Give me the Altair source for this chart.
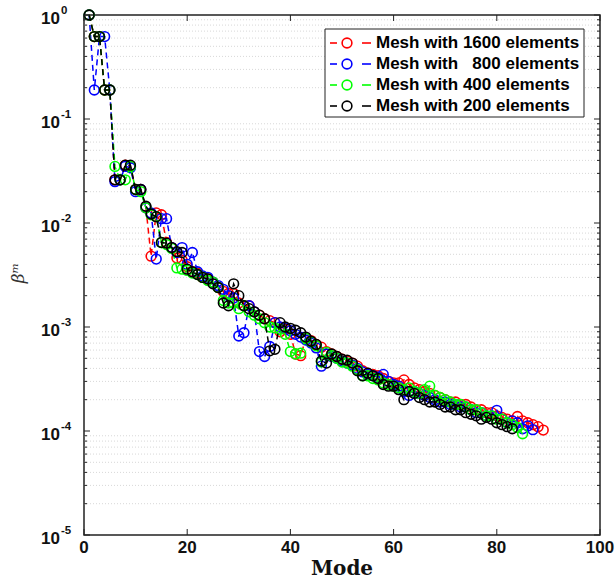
import altair as alt
import pandas as pd

# Eigenvalue decay beta^m against mode number for four mesh refinements
beta_1600 = [
    1.0, 0.62, 0.62, 0.19, 0.19, 0.026, 0.026, 0.036, 0.035, 0.021,
    0.021, 0.014, 0.0048, 0.0125, 0.012, 0.0065, 0.0058, 0.0046, 0.0044, 0.0038,
    0.0034, 0.0033, 0.0030, 0.0029, 0.0027, 0.0024, 0.0022, 0.0021, 0.0021, 0.0017,
    0.0016, 0.0016, 0.0014, 0.0013, 0.0012, 0.00115, 0.0011, 0.0009, 0.00095, 0.00085,
    0.00055, 0.00053, 0.00078, 0.00074, 0.00068, 0.00064, 0.00058, 0.00055, 0.00052, 0.00049,
    0.00047, 0.00045, 0.00042, 0.00038, 0.00036, 0.00035, 0.00034, 0.00032, 0.00030, 0.00029,
    0.00029, 0.00031, 0.00028, 0.00026, 0.00025, 0.00024, 0.00023, 0.00022, 0.00021, 0.00020,
    0.00019, 0.00019, 0.00018, 0.00018, 0.00017, 0.00016, 0.00016, 0.00015, 0.00015, 0.00014,
    0.000135, 0.00013, 0.000125, 0.000138, 0.000125, 0.00012, 0.000115, 0.00011, 0.000102,
]
beta_800 = [
    1.0, 0.19, 0.62, 0.62, 0.19, 0.025, 0.026, 0.035, 0.034, 0.020,
    0.021, 0.014, 0.0125, 0.0045, 0.011, 0.011, 0.0058, 0.0052, 0.0058, 0.0040,
    0.0052, 0.0034, 0.0031, 0.0030, 0.0027, 0.0025, 0.0023, 0.0020, 0.0019, 0.00082,
    0.00088, 0.0016, 0.0014, 0.00058, 0.00052, 0.00065, 0.0011, 0.0010, 0.00098, 0.00092,
    0.00085, 0.00080, 0.00075, 0.00070, 0.00063, 0.00042, 0.00055, 0.00052, 0.00050, 0.00047,
    0.00045, 0.00043, 0.00040, 0.00037, 0.00035, 0.00034, 0.00033, 0.00035, 0.00030, 0.00028,
    0.00027, 0.00024, 0.00022, 0.00024, 0.00023, 0.00022, 0.00021, 0.00020, 0.00019, 0.00019,
    0.00018, 0.00018, 0.00017, 0.00017, 0.00016, 0.00015, 0.00015, 0.00014, 0.00014, 0.000158,
    0.00013, 0.00012, 0.000125, 0.00012, 0.000105, 0.000112, 0.000103,
]
beta_400 = [
    1.0, 0.62, 0.62, 0.19, 0.19, 0.035, 0.026, 0.026, 0.035, 0.021,
    0.020, 0.014, 0.012, 0.0115, 0.0065, 0.0062, 0.0057, 0.0037, 0.0036, 0.0035,
    0.0033, 0.0032, 0.0030, 0.0028, 0.0027, 0.0024, 0.0018, 0.0017, 0.0017, 0.0015,
    0.0016, 0.0014, 0.0013, 0.0012, 0.0011, 0.0010, 0.00098, 0.00095, 0.00085, 0.00058,
    0.00055, 0.00056, 0.00078, 0.00072, 0.00066, 0.00046, 0.00057, 0.00053, 0.00050, 0.00046,
    0.00045, 0.00042, 0.00039, 0.00034, 0.00034, 0.00032, 0.00031, 0.00029, 0.00028, 0.00027,
    0.00026, 0.00025, 0.00026, 0.00024, 0.00023, 0.00025, 0.00027, 0.00022, 0.00021, 0.00020,
    0.00019, 0.00018, 0.00018, 0.00017, 0.00016, 0.00016, 0.00015, 0.00014, 0.00014, 0.00013,
    0.00013, 0.00012, 0.000115, 0.000108, 0.000094,
]
beta_200 = [
    1.0, 0.62, 0.62, 0.19, 0.19, 0.026, 0.026, 0.036, 0.036, 0.021,
    0.021, 0.0145, 0.0122, 0.0115, 0.0065, 0.0064, 0.0058, 0.0053, 0.0052, 0.0036,
    0.0034, 0.0032, 0.0030, 0.0029, 0.0026, 0.0024, 0.0017, 0.0016, 0.0026, 0.0020,
    0.0016, 0.0015, 0.0014, 0.0013, 0.0012, 0.00059, 0.00061, 0.0011, 0.0010, 0.00097,
    0.00093, 0.00088, 0.00080, 0.00073, 0.00068, 0.00047, 0.00045, 0.00055, 0.00052, 0.00049,
    0.00048, 0.00045, 0.00038, 0.00034, 0.00036, 0.00034, 0.00032, 0.00028, 0.00027, 0.00027,
    0.00025, 0.00020, 0.00024, 0.00023, 0.00021, 0.00020, 0.00019, 0.00019, 0.00018, 0.00017,
    0.00017, 0.00016, 0.00016, 0.00015, 0.000145, 0.00014, 0.00013, 0.000135, 0.00013, 0.00012,
    0.000115, 0.00011, 0.000105,
]

series_labels = [
    "Mesh with 1600 elements",
    "Mesh with \u2007800 elements",
    "Mesh with 400 elements",
    "Mesh with 200 elements",
]
series_colors = ["#ff0000", "#0000ff", "#00ff00", "#000000"]
series_values = [beta_1600, beta_800, beta_400, beta_200]

x_ticks = [0, 20, 40, 60, 80, 100]
y_major = [1e-5, 1e-4, 1e-3, 1e-2, 1e-1, 1.0]
y_exponents = ["-5", "-4", "-3", "-2", "-1", "0"]
y_minor = [m * d for d in [1e-5, 1e-4, 1e-3, 1e-2, 1e-1] for m in range(2, 10)]

rows = []
for label, vals in zip(series_labels, series_values):
    for i, v in enumerate(vals):
        rows.append({"series": label, "mode": i + 1, "beta": v})
df = pd.DataFrame(rows)

W, H = 516, 520
FONT = "Liberation Sans"
INK = "#111"

x_scale = alt.Scale(domain=[0, 100], nice=False, zero=False)
y_scale = alt.Scale(type="log", domain=[1e-5, 1], nice=False)
color_scale = alt.Scale(domain=series_labels, range=series_colors)
color = alt.Color("series:N", scale=color_scale, legend=None)

base = alt.Chart(df)

# frame layer carrying the grid lines
frame = base.mark_point(opacity=0).encode(
    x=alt.X("mode:Q", scale=x_scale,
            axis=alt.Axis(values=x_ticks, grid=True, gridColor="#e2e2e2", labels=False,
                          ticks=False, domain=False, title=None)),
    y=alt.Y("beta:Q", scale=y_scale,
            axis=alt.Axis(values=y_major, grid=True, gridColor="#d8d8d8", labels=False,
                          ticks=False, domain=False, title=None)),
)

# dotted minor grid on the log axis
minor_grid = alt.Chart(pd.DataFrame({"v": y_minor})).mark_rule(
    color="#d8d8d8", strokeDash=[1, 2], strokeWidth=1
).encode(y=alt.Y("v:Q", scale=y_scale, axis=None), x=alt.value(0), x2=alt.value(W))

layers = [frame, minor_grid]
for label in series_labels:
    sub = base.transform_filter(alt.datum.series == label)
    enc = dict(
        x=alt.X("mode:Q", scale=x_scale, axis=None),
        y=alt.Y("beta:Q", scale=y_scale, axis=None),
        color=color,
    )
    layers.append(sub.mark_line(strokeDash=[6, 4], strokeWidth=1.5).encode(**enc))
    layers.append(sub.mark_point(filled=False, size=95, strokeWidth=1.6, opacity=1).encode(**enc))

# inward tick marks on all four sides
xt = alt.Chart(pd.DataFrame({"t": x_ticks}))
xt_enc = alt.X("t:Q", scale=x_scale, axis=None)
layers.append(xt.mark_rule(color="#222").encode(x=xt_enc, y=alt.value(H), y2=alt.value(H - 6)))
layers.append(xt.mark_rule(color="#222").encode(x=xt_enc, y=alt.value(0), y2=alt.value(6)))

yt = alt.Chart(pd.DataFrame({"t": y_major}))
yt_enc = alt.Y("t:Q", scale=y_scale, axis=None)
layers.append(yt.mark_rule(color="#222").encode(y=yt_enc, x=alt.value(0), x2=alt.value(6)))
layers.append(yt.mark_rule(color="#222").encode(y=yt_enc, x=alt.value(W), x2=alt.value(W - 6)))

ym = alt.Chart(pd.DataFrame({"t": y_minor}))
ym_enc = alt.Y("t:Q", scale=y_scale, axis=None)
layers.append(ym.mark_rule(color="#222").encode(y=ym_enc, x=alt.value(0), x2=alt.value(3)))
layers.append(ym.mark_rule(color="#222").encode(y=ym_enc, x=alt.value(W), x2=alt.value(W - 3)))

# x tick labels
layers.append(xt.mark_text(
    align="center", baseline="top", font=FONT, fontSize=17, fontWeight="bold", color=INK
).encode(x=xt_enc, y=alt.value(H + 5), text="t:Q"))

# y tick labels written as 10 with a raised exponent
ylab = alt.Chart(pd.DataFrame({"t": y_major, "e": y_exponents}))
layers.append(ylab.mark_text(
    text="10", align="right", baseline="middle", dy=4,
    font=FONT, fontSize=17, fontWeight="bold", color=INK
).encode(y=alt.Y("t:Q", scale=y_scale, axis=None), x=alt.value(-24)))
layers.append(ylab.mark_text(
    align="left", baseline="middle", dy=-4,
    font=FONT, fontSize=11.5, fontWeight="bold", color=INK
).encode(y=alt.Y("t:Q", scale=y_scale, axis=None), x=alt.value(-23), text="e:N"))

# axis titles
titles = alt.Chart(pd.DataFrame({"xt": ["Mode"], "yt": ["\u03b2\u1d50"]}))
layers.append(titles.mark_text(
    align="center", baseline="middle", font="DejaVu Serif", fontSize=20,
    fontWeight="bold", color=INK
).encode(text="xt:N", x=alt.value(W / 2), y=alt.value(H + 34)))
layers.append(titles.mark_text(
    align="center", baseline="middle", angle=270, font="DejaVu Serif", fontSize=17,
    fontStyle="italic", color="#333"
).encode(text="yt:N", x=alt.value(-65), y=alt.value(H / 2 - 2)))

# legend box in the upper right corner
LEG_X0, LEG_X1, LEG_Y0, LEG_Y1 = 241, 500, 14, 102
leg_box = alt.Chart(pd.DataFrame({"k": [0]})).mark_rect(
    fill="white", stroke="#222", strokeWidth=1
).encode(x=alt.value(LEG_X0), x2=alt.value(LEG_X1), y=alt.value(LEG_Y0), y2=alt.value(LEG_Y1))
layers.append(leg_box)

leg = alt.Chart(pd.DataFrame({"series": series_labels})).transform_window(
    idx="row_number()"
).transform_calculate(py=f"{LEG_Y0 + 14} + 21 * (datum.idx - 1)")
leg_y = alt.Y("py:Q", scale=None, axis=None)
layers.append(leg.mark_rule(strokeWidth=1.6).encode(
    x=alt.value(LEG_X0 + 5), x2=alt.value(LEG_X0 + 12), y=leg_y, color=color))
layers.append(leg.mark_rule(strokeWidth=1.6).encode(
    x=alt.value(LEG_X0 + 37), x2=alt.value(LEG_X0 + 46), y=leg_y, color=color))
layers.append(leg.mark_point(filled=False, size=95, strokeWidth=1.6, opacity=1).encode(
    x=alt.value(LEG_X0 + 22), y=leg_y, color=color))
layers.append(leg.mark_text(
    align="left", baseline="middle", font=FONT, fontSize=17, fontWeight="bold", color="black"
).encode(x=alt.value(LEG_X0 + 51), y=leg_y, text="series:N"))

chart = alt.layer(*layers).properties(
    width=W, height=H, background="white",
    padding={"left": 84, "top": 15, "right": 15, "bottom": 46},
    autosize=alt.AutoSizeParams(type="none"),
).configure_view(stroke="#222", strokeWidth=1.5)

chart.save("out.html", embed_options={"renderer": "svg", "actions": False})
